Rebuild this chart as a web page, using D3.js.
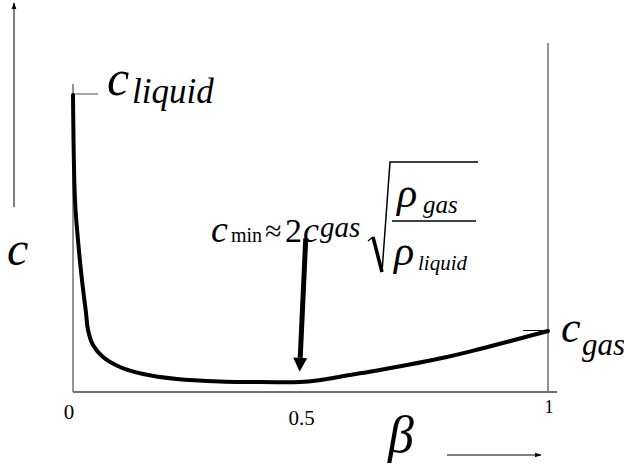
<!DOCTYPE html>
<html>
<head>
<meta charset="utf-8">
<script src="https://cdn.jsdelivr.net/npm/d3@7"></script>
<style>
  html, body { margin: 0; padding: 0; background: #fff; }
  svg { display: block; }
</style>
</head>
<body>
<svg id="chart" width="624" height="465"></svg>
<script>
// Void fraction of gas (beta) and mixture sound speed c, in units of c_gas
const beta = [0, 0.0042, 0.0105, 0.0189, 0.0274, 0.0316, 0.0421, 0.0632, 0.0989, 0.1474, 0.2189, 0.3095, 0.3726, 0.4779, 0.5137, 0.5832, 0.6463, 0.7874, 0.8568, 1];
const speed = [4.87, 3.148, 2.492, 1.836, 1.295, 1.016, 0.770, 0.574, 0.410, 0.295, 0.213, 0.172, 0.164, 0.164, 0.188, 0.279, 0.361, 0.574, 0.705, 1];
const xTicks = [0, 0.5, 1];
const xTickLabels = ["0", "0.5", "1"];
const cLiquid = 4.87;
const cGas = 1;
// minimum-speed pointer: tail and tip in (beta, c)
const pointerBeta = [0.49, 0.477];
const pointerC = [2.52, 0.33];

const svg = d3.select("#chart");
const x = d3.scaleLinear().domain([0, 1]).range([73, 548]);
const y = d3.scaleLinear().domain([0, cLiquid]).range([392, 95]);

const grey = "#707070";
const SERIF = '"Liberation Serif"';

function label(px, py, size, str, italic) {
  return svg.append("text").attr("x", px).attr("y", py)
    .style("font-family", SERIF).style("font-size", size + "px")
    .style("font-style", italic ? "italic" : "normal")
    .attr("fill", "#000").text(str);
}

// frame: left, bottom and right lines
svg.append("line").attr("x1", x(0)).attr("x2", x(0)).attr("y1", 84).attr("y2", y(0))
  .attr("stroke", grey).attr("stroke-width", 1.5);
svg.append("line").attr("x1", x(0)).attr("x2", 557).attr("y1", y(0)).attr("y2", y(0))
  .attr("stroke", grey).attr("stroke-width", 1.8);
svg.append("line").attr("x1", x(1)).attr("x2", x(1)).attr("y1", 43).attr("y2", y(0))
  .attr("stroke", grey).attr("stroke-width", 1.5);

// short level marks at c_liquid and c_gas
svg.append("line").attr("x1", x(0)).attr("x2", x(0) + 25).attr("y1", y(cLiquid) - 1).attr("y2", y(cLiquid) - 1)
  .attr("stroke", grey).attr("stroke-width", 1.2);
svg.append("line").attr("x1", x(1) - 25).attr("x2", x(1)).attr("y1", y(cGas) - 0.5).attr("y2", y(cGas) - 0.5)
  .attr("stroke", "#000").attr("stroke-width", 1);

// the speed curve
const line = d3.line().x((d, i) => x(beta[i])).y(d => y(d)).curve(d3.curveCatmullRom.alpha(0.5));
svg.append("path").datum(speed).attr("d", line)
  .attr("fill", "none").attr("stroke", "#000").attr("stroke-width", 4)
  .attr("stroke-linejoin", "round").attr("stroke-linecap", "round");

// tick labels on the beta axis
const tickFont = [21, 21, 18];
const tickDx = [-4, -9, 1];
const tickBase = [419, 425, 413];
xTicks.forEach((t, i) => {
  label(x(t) + tickDx[i], tickBase[i], tickFont[i], xTickLabels[i], false).attr("text-anchor", "middle");
});

// arrow markers
svg.append("defs").append("marker").attr("id", "head").attr("viewBox", "0 0 10 10")
  .attr("refX", 9).attr("refY", 5).attr("markerWidth", 7).attr("markerHeight", 7)
  .attr("markerUnits", "userSpaceOnUse").attr("orient", "auto")
  .append("path").attr("d", "M0,1.5 L10,5 L0,8.5 Z").attr("fill", "#000");

// axis direction arrows
svg.append("line").attr("x1", 14).attr("x2", 14).attr("y1", 207).attr("y2", 3)
  .attr("stroke", "#000").attr("stroke-width", 1).attr("marker-end", "url(#head)");
svg.append("line").attr("x1", 447).attr("x2", 541).attr("y1", 455).attr("y2", 455)
  .attr("stroke", "#000").attr("stroke-width", 1).attr("marker-end", "url(#head)");

// pointer to the minimum
const tail = [x(pointerBeta[0]), y(pointerC[0])];
const tip = [x(pointerBeta[1]), y(pointerC[1])];
const ang = Math.atan2(tip[1] - tail[1], tip[0] - tail[0]);
const headLen = 14, headHalf = 7;
const base = [tip[0] - headLen * Math.cos(ang), tip[1] - headLen * Math.sin(ang)];
svg.append("line").attr("x1", tail[0]).attr("y1", tail[1]).attr("x2", base[0]).attr("y2", base[1])
  .attr("stroke", "#000").attr("stroke-width", 5);
svg.append("path")
  .attr("d", `M${tip[0]},${tip[1]} L${base[0] - headHalf * Math.sin(ang)},${base[1] + headHalf * Math.cos(ang)} L${base[0] + headHalf * Math.sin(ang)},${base[1] - headHalf * Math.cos(ang)} Z`)
  .attr("fill", "#000");

// axis names
label(7, 265, 48, "c", true);
label(388, 452, 52, "β", true);

// c_liquid and c_gas labels
label(107, 95, 50, "c", true);
label(132, 103, 35, "liquid", true);
label(561, 342, 44, "c", true);
label(582, 355, 31, "gas", true);

// formula: c_min ≈ 2 c_gas sqrt(rho_gas / rho_liquid)
label(211, 242, 38, "c", true);
label(231, 242, 20, "min", false);
label(265, 241, 30, "≈", false);
label(285, 242, 34, "2", false);
label(303, 242, 36, "c", true);
label(320, 237, 29, "gas", true);
label(397, 207, 42, "ρ", true);
label(423, 213, 25, "gas", true);
svg.append("line").attr("x1", 392).attr("x2", 476).attr("y1", 221).attr("y2", 221).attr("stroke", "#000").attr("stroke-width", 1.5);
label(394, 265, 42, "ρ", true);
label(418, 270, 21, "liquid", true);
// radical sign
svg.append("path").attr("d", "M368,241 L373,237").attr("stroke", "#000").attr("stroke-width", 1.5).attr("fill", "none");
svg.append("path").attr("d", "M373,237 L382,272").attr("stroke", "#000").attr("stroke-width", 3.5).attr("fill", "none");
svg.append("path").attr("d", "M382,272 L390,162 L478,162").attr("stroke", "#000").attr("stroke-width", 1.5).attr("fill", "none");
</script>
</body>
</html>
